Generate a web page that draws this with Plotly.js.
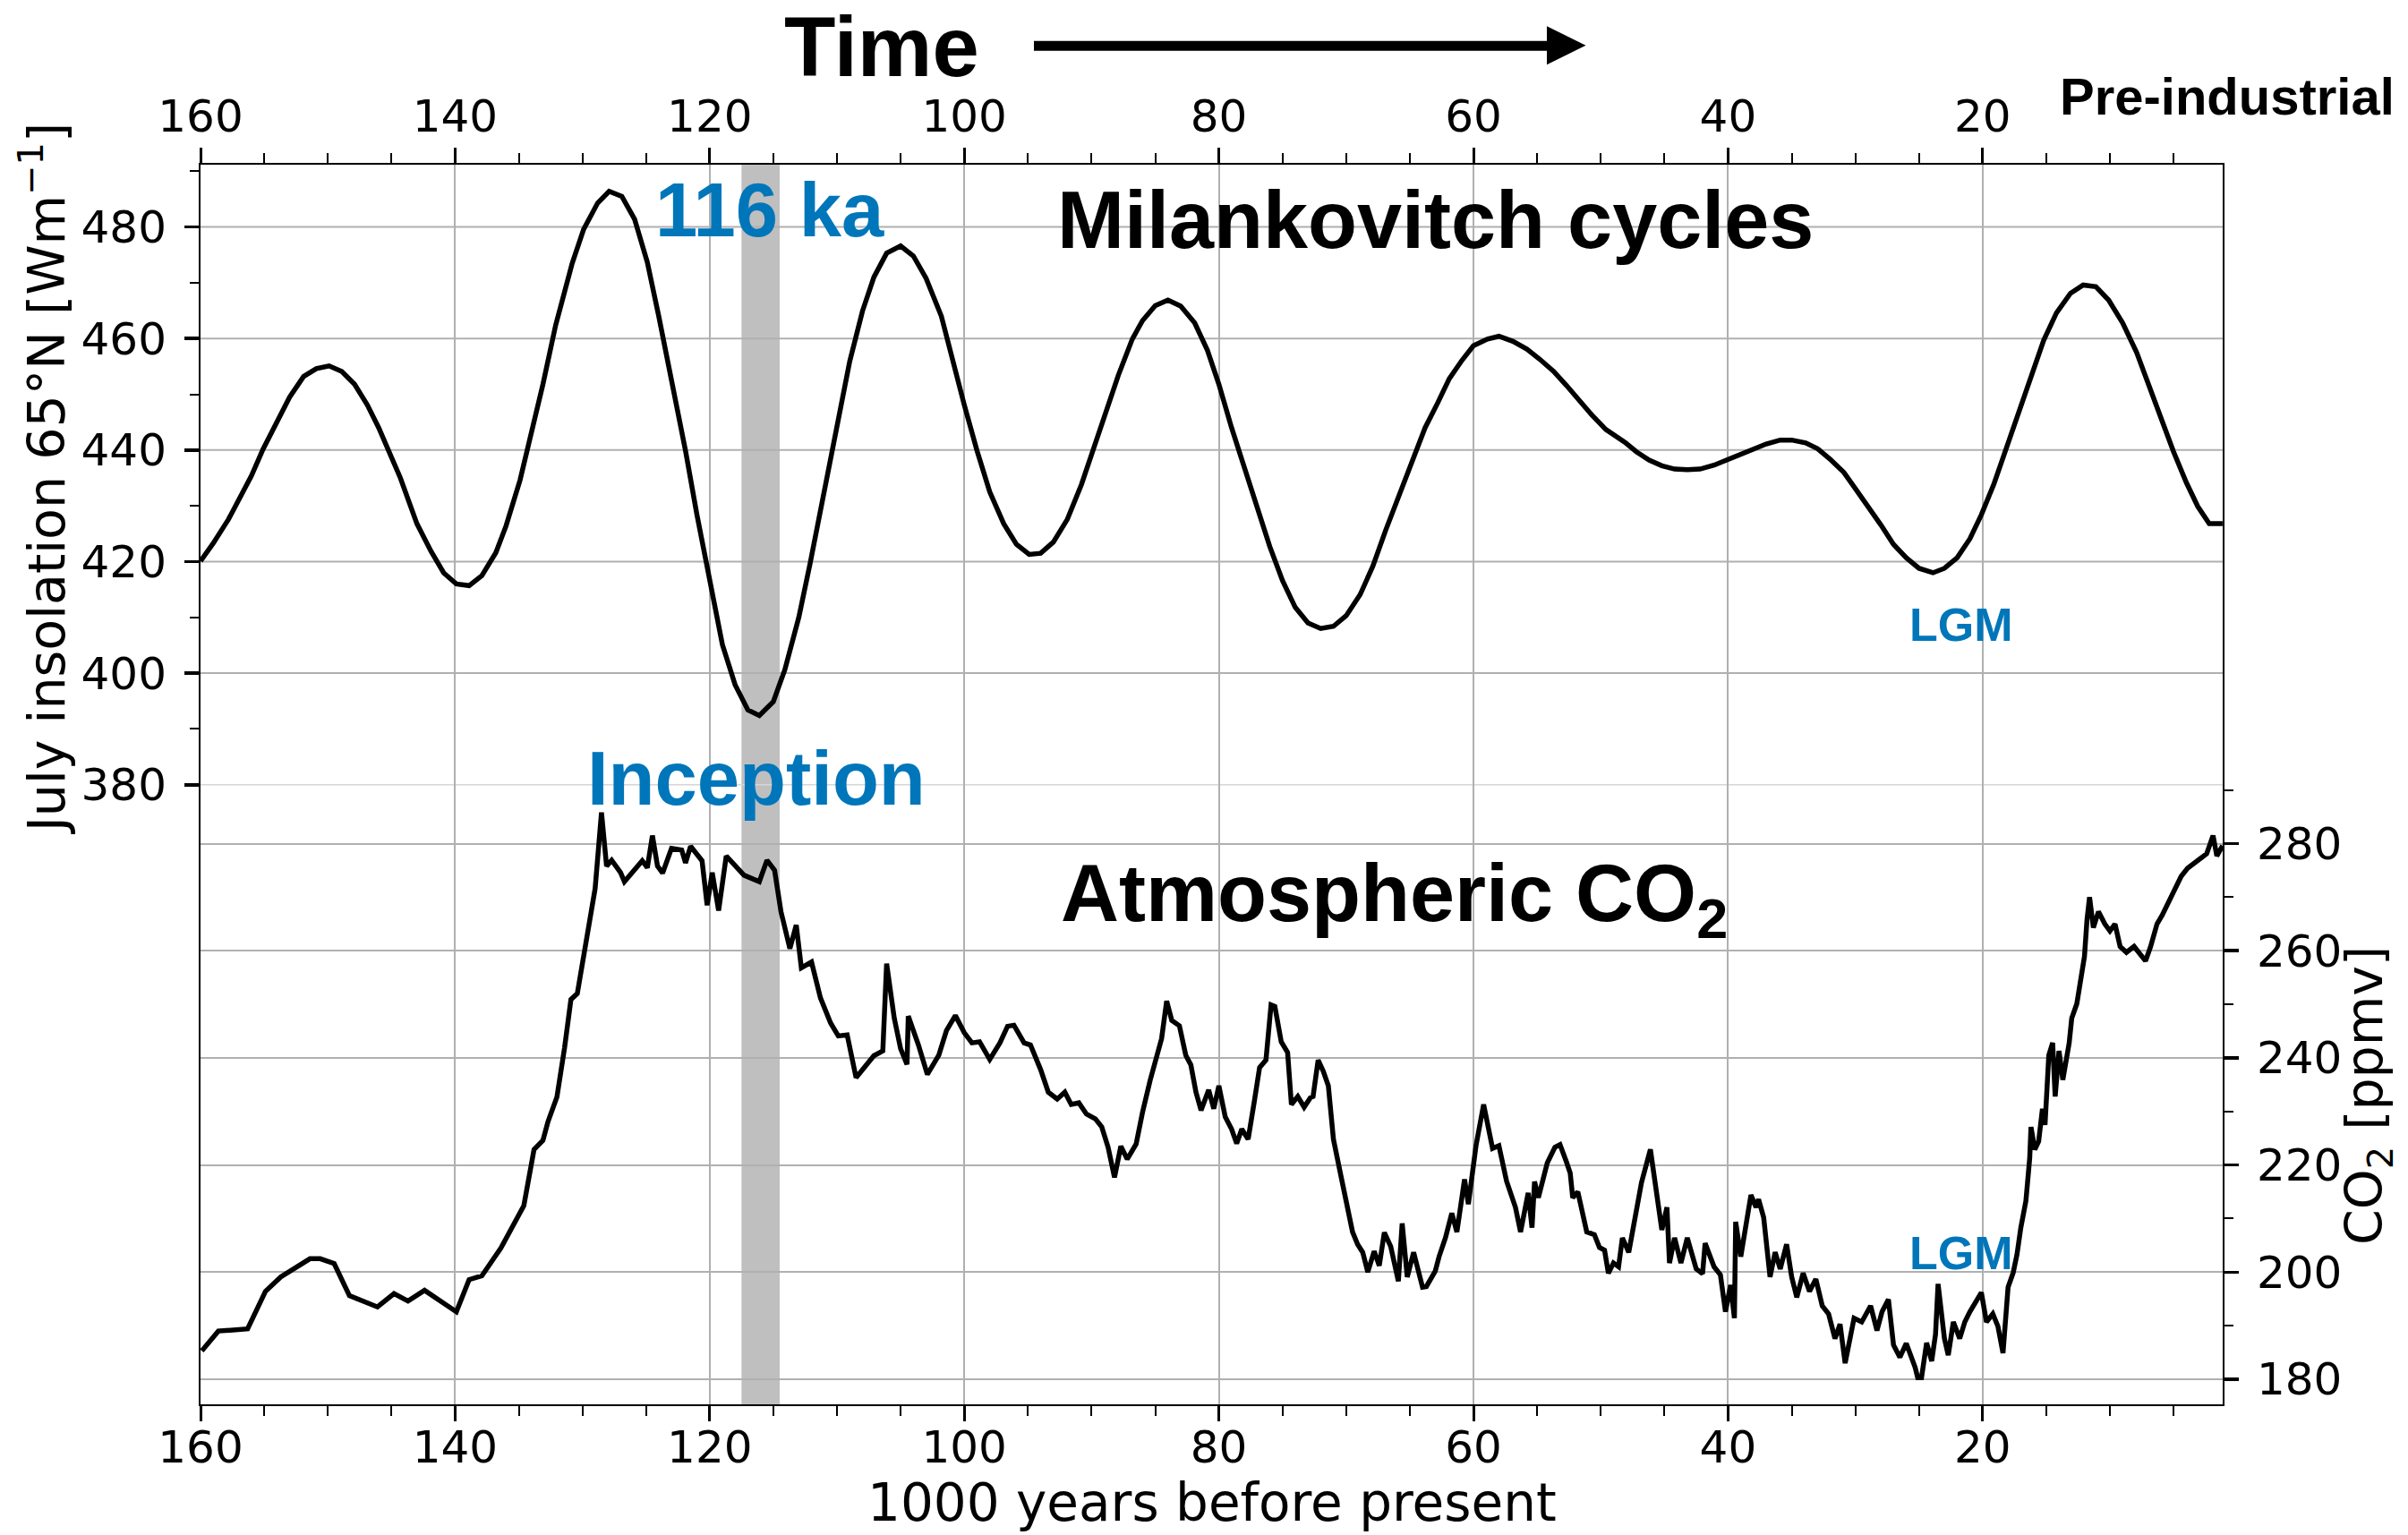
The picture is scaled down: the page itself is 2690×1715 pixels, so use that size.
<!DOCTYPE html>
<html>
<head>
<meta charset="utf-8">
<script src="https://cdn.plot.ly/plotly-3.0.1.min.js"></script>
<style>html,body{margin:0;padding:0;background:#fff}#chart{width:2690px;height:1715px}</style>
</head>
<body>
<div id="chart"></div>
<script>
// ---------------- DATA ----------------
// July insolation at 65°N [W m-2]; age in 1000 years before present
const insolAge = [
  160,159.0,157.8,157.0,156.0,155.1,154.0,153.0,151.9,150.9,
  149.9,148.9,147.9,146.9,146.0,145.1,144.3,143.0,141.9,140.9,
  139.9,138.9,137.9,136.8,136.0,134.9,134.2,133.1,132.1,130.8,
  129.9,128.8,127.9,126.9,125.9,124.9,124.0,123.0,121.9,121.0,
  120.0,119.0,118.0,117.0,116.1,115.0,114.1,113.0,112.1,111.0,
  110.0,109.0,108.0,107.1,106.1,105.0,104.0,103.0,101.8,100.9,
  100.0,99.0,98.0,96.9,95.9,94.9,94.0,93.0,91.9,90.8,
  89.9,88.9,87.9,86.8,86.0,85.0,84.0,83.0,81.9,80.9,
  80.0,79.0,78.0,77.0,76.0,75.0,74.0,73.0,72.0,71.0,
  70.0,68.9,67.9,66.9,65.8,64.9,63.8,62.8,61.9,60.9,
  60.0,58.9,58.0,56.9,55.8,54.8,53.7,52.7,51.7,50.7,
  49.6,48.1,47.2,46.2,45.2,44.2,43.2,42.2,41.1,40.1,
  39.0,38.0,37.0,35.9,35.0,33.9,33.0,32.0,30.9,30.0,
  29.0,28.0,27.0,26.0,25.0,23.9,23.0,22.0,21.0,20.1,
  19.1,18.2,17.3,16.3,15.2,14.2,13.1,12.1,11.1,10.1,
  9.0,7.9,6.8,5.7,5.0,4.0,3.1,2.2,1.15
];
const insolValue = [
  420.1,423.3,427.6,430.9,435.4,440.1,445.0,449.5,453.2,454.6,
  455.1,454.1,451.8,448.1,444.0,439.5,435.0,426.8,421.9,418.0,
  416.0,415.7,417.5,421.6,426.4,434.6,441.1,451.8,462.4,473.5,
  479.6,484.3,486.4,485.5,481.4,473.7,464.0,452.6,439.9,428.4,
  417.0,405.1,397.9,393.4,392.4,394.9,400.6,410.0,419.8,432.5,
  444.8,455.9,464.9,471.0,475.3,476.6,474.8,470.8,464.0,455.9,
  448.1,439.9,432.5,426.8,423.1,421.3,421.5,423.5,427.6,433.8,
  439.9,446.4,453.4,459.9,463.2,465.9,466.9,465.8,462.8,457.9,
  451.8,444.0,437.0,429.7,422.7,416.6,411.8,409.0,408.0,408.4,
  410.3,414.1,419.2,425.6,432.3,437.8,444.0,448.5,452.8,456.1,
  458.7,459.9,460.4,459.5,458.1,456.3,454.1,451.6,448.9,446.3,
  443.7,441.4,439.7,438.2,437.2,436.6,436.5,436.6,437.3,438.2,
  439.2,440.2,441.1,441.8,441.8,441.3,440.3,438.4,436.0,433.1,
  429.9,426.6,423.1,420.7,418.8,418.0,418.8,420.7,424.1,428.4,
  434.0,439.9,445.8,452.2,459.7,464.6,468.1,469.6,469.3,466.9,
  462.8,457.5,450.5,444.0,439.7,434.2,429.9,426.8,426.8
];

// Atmospheric CO2 [ppmv]
const co2Age = [
  159.9,158.6,156.3,154.9,153.7,152.4,151.4,150.6,149.5,148.3,
  146.1,144.8,143.7,142.4,139.9,138.9,137.9,136.4,134.6,133.8,
  133.1,132.7,132.0,131.4,130.9,130.4,129.7,129.0,128.5,128.1,
  127.7,127.0,126.7,126.1,125.3,124.9,124.5,124.1,123.7,123.0,
  122.2,121.9,121.5,120.6,120.2,119.8,119.3,118.7,117.3,116.1,
  115.5,114.9,114.4,113.7,113.2,112.8,112.0,111.3,110.5,109.9,
  109.2,108.5,107.1,106.4,106.1,105.5,105.0,104.5,104.4,103.6,
  102.9,102.0,101.4,100.7,100.0,99.4,98.8,98.0,97.2,96.6,
  96.1,95.3,94.8,94.0,93.4,92.7,92.1,91.6,91.0,90.4,
  89.7,89.2,88.7,88.2,87.7,87.2,86.5,86.0,85.4,84.5,
  84.1,83.7,83.1,82.6,82.2,81.8,81.4,80.8,80.4,80.0,
  79.5,79.0,78.6,78.2,77.7,77.2,76.8,76.3,75.9,75.6,
  75.1,74.6,74.3,73.8,73.3,72.8,72.6,72.2,71.8,71.4,
  71.0,70.5,70.0,69.5,69.1,68.7,68.3,67.8,67.4,67.0,
  66.5,65.9,65.6,65.2,64.7,64.0,63.7,63.0,62.7,62.2,
  61.7,61.3,60.7,60.4,59.8,59.2,58.5,58.0,57.4,56.7,
  56.3,55.7,55.4,55.2,54.9,54.2,53.6,53.2,52.7,52.4,
  52.2,51.8,51.1,50.5,50.1,49.7,49.4,49.0,48.6,48.3,
  47.8,47.3,46.8,46.1,45.7,45.2,44.8,44.6,44.2,43.7,
  43.2,42.5,42.0,41.8,41.1,40.6,40.2,39.8,39.5,39.4,
  39.0,38.5,38.2,37.8,37.6,37.2,36.7,36.3,35.9,35.4,
  35.0,34.6,34.1,33.6,33.1,32.6,32.1,31.6,31.2,30.8,
  30.1,29.5,29.2,28.8,28.3,27.9,27.4,27.0,26.5,26.0,
  25.3,25.1,24.8,24.4,24.0,23.7,23.5,23.0,22.7,22.3,
  21.8,21.4,21.0,20.6,20.1,19.7,19.2,18.8,18.4,18.0,
  17.6,17.3,17.0,16.6,16.3,16.2,15.9,15.6,15.3,15.1,
  14.8,14.5,14.3,14.0,13.7,13.2,13.0,12.6,12.2,12.0,
  11.8,11.6,11.3,10.9,10.4,10.0,9.6,9.2,8.7,8.1,
  7.6,7.2,6.8,6.3,5.9,5.4,4.9,4.4,3.9,3.4,
  2.9,2.4,1.9,1.6,1.15
];
const co2Value = [
  185.3,189.0,189.4,196.4,199.1,201.0,202.5,202.5,201.6,195.6,
  193.5,196.0,194.6,196.6,192.6,198.6,199.3,204.5,212.4,222.9,
  224.6,228.1,232.7,241.9,250.9,252.0,261.2,271.6,285.8,275.8,
  276.9,274.6,272.9,274.6,276.8,275.5,281.5,275.8,274.5,279.1,
  278.8,276.4,279.5,276.8,268.5,274.6,267.5,277.7,274.1,272.9,
  276.9,275.0,267.3,260.4,264.8,256.8,257.9,251.2,246.5,244.1,
  244.3,236.3,240.4,241.3,257.6,247.4,241.7,238.8,247.8,242.4,
  236.9,240.5,245.1,247.9,244.7,242.8,243.0,239.7,242.8,245.9,
  246.1,242.8,242.4,237.8,233.6,232.3,233.6,231.3,231.6,229.5,
  228.6,227.1,223.3,217.7,223.5,221.1,223.9,229.8,235.8,243.6,
  250.6,247.0,246.0,240.5,238.7,233.6,230.2,234.0,230.5,234.8,
  229.0,226.7,224.0,226.7,224.8,232.1,238.2,239.6,249.9,249.6,
  243.0,241.0,231.3,232.8,230.8,232.6,232.8,239.6,237.5,234.8,
  224.8,219.0,213.3,207.5,205.2,203.7,200.0,203.9,201.2,207.4,
  204.8,198.3,209.1,199.1,203.7,197.2,197.3,200.2,202.9,206.4,
  211.0,207.5,217.3,212.7,223.6,231.3,223.1,223.6,217.0,212.1,
  207.5,214.8,208.3,216.9,213.9,220.4,223.3,223.8,220.6,218.5,
  213.9,215.0,207.5,207.0,204.6,204.1,199.8,201.7,201.0,206.4,
  203.7,210.6,216.7,222.9,216.4,207.9,212.1,201.7,206.4,201.7,
  206.4,200.6,199.7,205.4,201.0,199.5,192.6,197.6,191.4,209.4,
  202.9,210.6,214.4,212.1,213.6,210.2,199.1,203.7,200.6,205.2,
  199.1,195.3,199.8,196.4,198.7,193.7,192.2,187.6,190.3,183.0,
  191.4,190.7,192.2,193.7,189.1,192.6,194.9,186.4,184.1,186.7,
  182.2,180.3,180.3,186.8,183.4,188.4,197.8,187.6,184.5,190.7,
  187.6,190.7,192.6,194.1,196.2,190.7,192.2,189.9,184.9,197.2,
  199.9,203.3,208.3,213.3,221.3,227.1,222.9,224.4,230.5,227.5,
  240.5,242.8,232.8,241.3,235.9,242.8,247.4,250.1,255.8,258.9,
  265.8,270.0,264.3,267.3,265.0,263.7,265.0,260.8,259.7,260.8,
  259.3,258.1,260.8,265.0,266.6,268.9,271.6,273.9,275.4,276.2,
  277.2,278.1,281.5,277.7,279.6
];

// Tick labels
const ageTicks   = [160, 140, 120, 100, 80, 60, 40, 20];
const insolTicks = [380, 400, 420, 440, 460, 480];
const co2Ticks   = [180, 200, 220, 240, 260, 280];
const inceptionBand = [117.5, 114.5];   // shaded 116 ka window

// ---------------- LAYOUT ----------------
const W = 2690, H = 1715;
const L = 224, R = 2483, T = 184, B = 1569;
const px = x => (x - L) / (R - L);
const py = y => (B - y) / (B - T);

const minorAge = [];
for (let a = 155; a >= 5; a -= 5) if (a % 20 !== 0) minorAge.push(a);
const minorInsol = insolTicks.map(v => v + 10);
const minorCo2 = co2Ticks.map(v => v + 10);

const tickFont = {family: 'DejaVu Sans', size: 50, color: '#000'};
const blue = '#0076ba';

const xCommon = {
  range: [160, 1.14], autorange: false,
  tickmode: 'array', tickvals: ageTicks, ticktext: ageTicks.map(String),
  ticks: 'outside', ticklen: 17, tickwidth: 3, tickcolor: '#000',
  showline: true, linewidth: 2, linecolor: '#000', zeroline: false,
  tickfont: tickFont, automargin: false, fixedrange: true,
  minor: {tickmode: 'array', tickvals: minorAge, ticks: 'outside', ticklen: 11, tickwidth: 2, tickcolor: '#000', showgrid: false}
};

const shapes = [];
shapes.push({type: 'rect', xref: 'x', yref: 'paper', x0: inceptionBand[0], x1: inceptionBand[1], y0: 0, y1: 1,
             fillcolor: '#bfbfbf', line: {width: 0}, layer: 'below'});
insolTicks.forEach(v => shapes.push({
  type: 'line', xref: 'paper', yref: 'y', x0: 0, x1: 1, y0: v, y1: v, layer: 'below',
  line: {color: v === 380 ? '#d6d6d6' : '#b0b0b0', width: v === 380 ? 1.3 : 2}
}));
// "Time" arrow
shapes.push({type: 'line', xref: 'paper', yref: 'paper', x0: px(1155), x1: px(1732), y0: py(51.2), y1: py(51.2),
             line: {color: '#000', width: 11}});
shapes.push({type: 'path', xref: 'paper', yref: 'paper', fillcolor: '#000', line: {width: 0},
             path: `M ${px(1728)} ${py(29.3)} L ${px(1771.5)} ${py(50.8)} L ${px(1728)} ${py(72.3)} Z`});

function txt(text, xLeft, baseline, size, color, family) {
  return {text: text, xref: 'paper', yref: 'paper', x: px(xLeft), y: py(baseline - 0.346 * size),
          xanchor: 'left', yanchor: 'middle', showarrow: false, borderpad: 0, borderwidth: 0,
          font: {family: family || 'Liberation Sans', size: size, color: color}};
}

const annotations = [
  txt('<b>Time</b>', 876, 85, 94, '#000'),
  txt('<b>Pre-industrial</b>', 2300.5, 128, 58, '#000'),
  txt('<b>Milankovitch cycles</b>', 1181, 277, 90, '#000'),
  txt('<b>Atmospheric CO<sub>2</sub></b>', 1185, 1036, 90, '#000'),
  txt('<b>116 ka</b>', 732, 264, 85, blue),
  txt('<b>Inception</b>', 656, 899, 85, blue),
  txt('<b>LGM</b>', 2133, 716, 52, blue),
  txt('<b>LGM</b>', 2132.5, 1418, 52, blue),
  {text: '1000 years before present', xref: 'paper', yref: 'paper', x: px(1353.5), y: py(1679),
   xanchor: 'center', yanchor: 'middle', showarrow: false, borderpad: 0, borderwidth: 0,
   font: {family: 'DejaVu Sans', size: 58, color: '#000'}},
  {text: 'July insolation 65°N [Wm<sup>−1</sup>]', xref: 'paper', yref: 'paper', x: px(48), y: py(535),
   xanchor: 'center', yanchor: 'middle', textangle: -90, showarrow: false, borderpad: 0, borderwidth: 0,
   font: {family: 'DejaVu Sans', size: 57, color: '#000'}},
  {text: 'CO<sub>2</sub> [ppmv]', xref: 'paper', yref: 'paper', x: px(2645), y: py(1224),
   xanchor: 'center', yanchor: 'middle', textangle: -90, showarrow: false, borderpad: 0, borderwidth: 0,
   font: {family: 'DejaVu Sans', size: 57, color: '#000'}}
];

const layout = {
  width: W, height: H,
  margin: {l: L, r: W - R, t: T, b: H - B, pad: 0},
  paper_bgcolor: '#fff', plot_bgcolor: 'rgba(0,0,0,0)',
  showlegend: false,
  xaxis: Object.assign({}, xCommon, {side: 'bottom', anchor: 'y', showgrid: true, gridcolor: '#b0b0b0', gridwidth: 2,
                                     ticklabelstandoff: -14}),
  xaxis2: Object.assign({}, xCommon, {side: 'top', anchor: 'y', overlaying: 'x', showgrid: false,
                                      ticklabelstandoff: -2}),
  yaxis: {
    range: [268.91, 491.17], autorange: false, side: 'left', anchor: 'x',
    tickmode: 'array', tickvals: insolTicks, ticktext: insolTicks.map(String),
    ticks: 'outside', ticklen: 16, tickwidth: 3.5, tickcolor: '#000',
    showline: true, linewidth: 2, linecolor: '#000', zeroline: false, showgrid: false,
    tickfont: tickFont, automargin: false, fixedrange: true, ticklabelstandoff: 10,
    minor: {tickmode: 'array', tickvals: minorInsol, ticks: 'outside', ticklen: 10, tickwidth: 2, tickcolor: '#000', showgrid: false}
  },
  yaxis2: {
    range: [175.32, 406.75], autorange: false, side: 'right', anchor: 'x', overlaying: 'y',
    tickmode: 'array', tickvals: co2Ticks, ticktext: co2Ticks.map(String),
    ticks: 'outside', ticklen: 16, tickwidth: 3.5, tickcolor: '#000',
    showline: true, linewidth: 2, linecolor: '#000', zeroline: false,
    showgrid: true, gridcolor: '#b0b0b0', gridwidth: 2,
    tickfont: tickFont, automargin: false, fixedrange: true, ticklabelstandoff: 10,
    minor: {tickmode: 'array', tickvals: minorCo2, ticks: 'outside', ticklen: 10, tickwidth: 2, tickcolor: '#000', showgrid: false}
  },
  shapes: shapes,
  annotations: annotations
};

const traces = [
  {type: 'scatter', mode: 'lines', x: insolAge, y: insolValue, xaxis: 'x', yaxis: 'y',
   line: {color: '#000', width: 5.5}, hoverinfo: 'skip', name: 'Insolation'},
  {type: 'scatter', mode: 'lines', x: co2Age, y: co2Value, xaxis: 'x', yaxis: 'y2',
   line: {color: '#000', width: 5.5}, hoverinfo: 'skip', name: 'CO2'},
  {type: 'scatter', mode: 'lines', x: [160, 1.14], y: [null, null], xaxis: 'x2', yaxis: 'y',
   hoverinfo: 'skip', showlegend: false}
];

Plotly.newPlot('chart', traces, layout, {staticPlot: true, displayModeBar: false});
</script>
</body>
</html>
